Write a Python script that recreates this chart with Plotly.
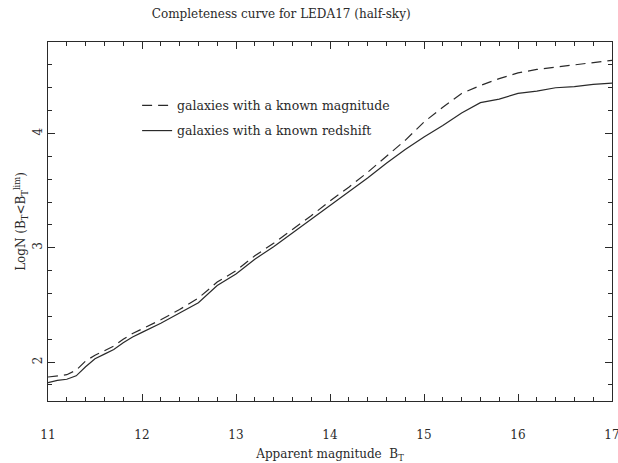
import plotly.graph_objects as go

# Limiting magnitude B_T (bin edges of the cumulative counts)
mag = [11.0, 11.1, 11.2, 11.3, 11.4, 11.5, 11.6, 11.7, 11.8, 11.9,
       12.0, 12.2, 12.4, 12.6, 12.8, 13.0, 13.2, 13.4, 13.6, 13.8,
       14.0, 14.2, 14.4, 14.6, 14.8, 15.0, 15.2, 15.4, 15.6, 15.8,
       16.0, 16.2, 16.4, 16.6, 16.8, 17.0]

# log N(B_T < B_T^lim) for galaxies with a known magnitude
logn_mag = [1.87, 1.88, 1.89, 1.93, 2.01, 2.06, 2.10, 2.14, 2.20, 2.25,
            2.29, 2.37, 2.46, 2.56, 2.70, 2.80, 2.93, 3.04, 3.16, 3.28,
            3.41, 3.53, 3.66, 3.80, 3.94, 4.10, 4.23, 4.35, 4.42, 4.48,
            4.53, 4.56, 4.58, 4.60, 4.62, 4.64]

# log N(B_T < B_T^lim) for galaxies with a known redshift
logn_z = [1.82, 1.84, 1.85, 1.88, 1.96, 2.03, 2.07, 2.11, 2.17, 2.22,
          2.26, 2.34, 2.43, 2.52, 2.67, 2.77, 2.90, 3.01, 3.13, 3.25,
          3.37, 3.49, 3.61, 3.74, 3.86, 3.97, 4.07, 4.18, 4.27, 4.30,
          4.35, 4.37, 4.40, 4.41, 4.43, 4.44]

FONT = "DejaVu Serif"
INK = "#2a2a2a"

fig = go.Figure()
fig.add_trace(go.Scatter(
    x=mag, y=logn_mag, mode="lines",
    name="galaxies with a known magnitude",
    line=dict(color=INK, width=1.2, dash="10px,6px"),
    legend="legend", showlegend=True,
))
fig.add_trace(go.Scatter(
    x=mag, y=logn_z, mode="lines",
    name="galaxies with a known redshift",
    line=dict(color=INK, width=1.2),
    legend="legend2", showlegend=True,
))

axis_common = dict(
    showline=True, linecolor=INK, linewidth=1.2, mirror="ticks",
    ticks="inside", ticklen=7, tickwidth=1, tickcolor=INK,
    showgrid=False, zeroline=False, automargin=False,
    tickfont=dict(family=FONT, size=12, color=INK),
)

fig.update_xaxes(
    range=[11, 17], dtick=1, tick0=11,
    minor=dict(dtick=0.2, ticks="inside", ticklen=4, tickcolor=INK),
    ticklabeloverflow="allow", ticklabelstandoff=22,
    title=dict(text="Apparent magnitude  B<sub>T</sub>",
               font=dict(family=FONT, size=12, color=INK), standoff=14),
    **axis_common,
)
fig.update_yaxes(
    range=[1.66, 4.80], dtick=1, tick0=2, tickangle=-90,
    minor=dict(dtick=0.2, ticks="inside", ticklen=4, tickcolor=INK),
    title=dict(text="LogN (B<sub>T</sub>&lt;B<sub>T</sub><sup>lim</sup>)",
               font=dict(family=FONT, size=12, color=INK), standoff=2),
    **axis_common,
)

legend_style = dict(xanchor="left", yanchor="top", bgcolor="rgba(0,0,0,0)",
                    font=dict(family=FONT, size=12.5, color=INK))

fig.update_layout(
    width=618, height=463,
    margin=dict(l=48, r=6, t=42, b=62),
    paper_bgcolor="white", plot_bgcolor="white",
    showlegend=True,
    title=dict(text="Completeness curve for LEDA17 (half-sky)",
               x=0.455, xanchor="center", y=0.97, yanchor="middle",
               font=dict(family=FONT, size=12, color=INK)),
    legend=dict(x=0.158, y=0.864, **legend_style),
    legend2=dict(x=0.158, y=0.794, **legend_style),
)

fig.write_html("out.html")
